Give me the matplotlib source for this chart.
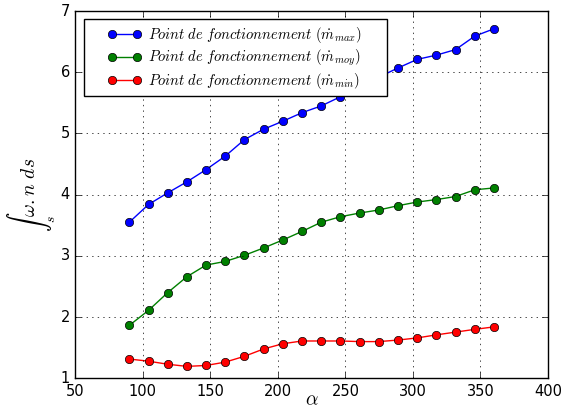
import numpy as np
import matplotlib
matplotlib.use("Agg")
import matplotlib.pyplot as plt
from matplotlib.patches import Rectangle

plt.style.use('classic')
plt.rcParams['mathtext.fontset'] = 'cm'
plt.rcParams['font.family'] = ['DejaVu Sans']

alpha = np.linspace(90, 360, 20)

m_max = [3.55, 3.84, 4.03, 4.21, 4.41, 4.63, 4.90, 5.07, 5.20, 5.34,
         5.45, 5.60, 5.76, 5.92, 6.07, 6.21, 6.28, 6.37, 6.59, 6.71]
m_moy = [1.865, 2.11, 2.40, 2.66, 2.85, 2.91, 3.01, 3.13, 3.26, 3.40,
         3.55, 3.64, 3.70, 3.75, 3.82, 3.88, 3.92, 3.97, 4.08, 4.11]
m_min = [1.315, 1.28, 1.23, 1.195, 1.21, 1.265, 1.36, 1.48, 1.565, 1.61,
         1.61, 1.61, 1.60, 1.60, 1.625, 1.66, 1.71, 1.755, 1.80, 1.84]

labels = [r'$Point\ de\ fonctionnement\ (\dot{m}_{max})$',
          r'$Point\ de\ fonctionnement\ (\dot{m}_{moy})$',
          r'$Point\ de\ fonctionnement\ (\dot{m}_{min})$']

fig = plt.figure(figsize=(5.62, 4.09), dpi=100, facecolor='white')
ax = fig.add_axes([0.134, 0.075, 0.841, 0.898])

for y, c, lab in zip([m_max, m_moy, m_min], ['b', 'g', 'r'], labels):
    ax.plot(alpha, y, '-o', color=c, markerfacecolor=c, markeredgecolor='k',
            markersize=6, linewidth=1, label=lab)

ax.set_xlim(50, 400)
ax.set_ylim(1, 7)
ax.set_xticks(np.arange(50, 401, 50))
ax.set_yticks(np.arange(1, 8, 1))
ax.tick_params(labelsize=10.5)
ax.grid(True, linestyle=':', color='k')
ax.set_xlabel(r'$\alpha$', fontsize=14, labelpad=-6)
ax.set_ylabel(r'$\int_s \omega{.}n\ ds$', fontsize=14, labelpad=2)

# legend frame drawn as a box, legend content inside it
ax.add_patch(Rectangle((0.018, 0.768), 0.641, 0.210, transform=ax.transAxes,
                       facecolor='white', edgecolor='k', linewidth=1,
                       zorder=4))
leg = ax.legend(loc='upper left', bbox_to_anchor=(0.068, 0.962), fontsize=10.5,
                numpoints=2, borderaxespad=0, borderpad=0, frameon=False,
                handlelength=2.3, handletextpad=0.45, labelspacing=0.2)
leg.set_zorder(5)

fig.savefig('out.png', dpi=100, facecolor='white')
